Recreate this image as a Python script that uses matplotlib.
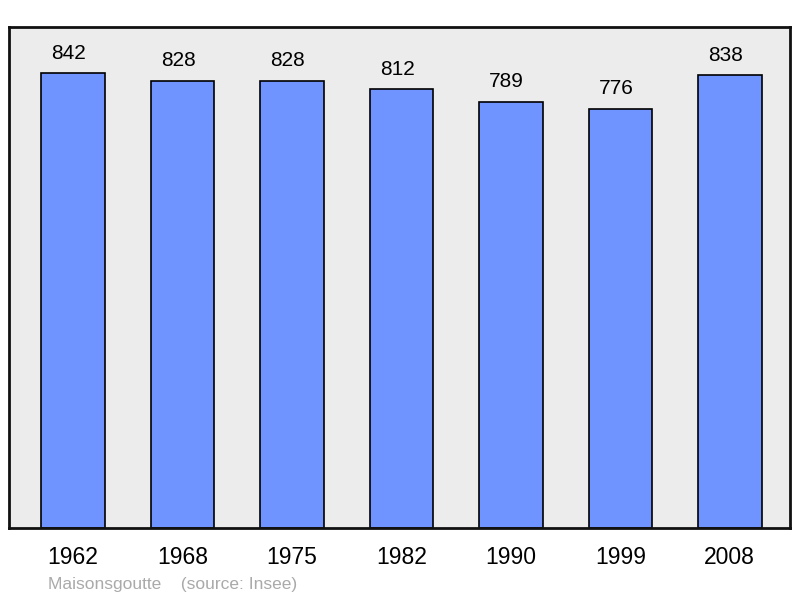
import numpy as np
import matplotlib.pyplot as plt

plt.rcParams['font.family'] = ['Liberation Sans', 'DejaVu Sans']

years = ["1962", "1968", "1975", "1982", "1990", "1999", "2008"]
population = [842, 828, 828, 812, 789, 776, 838]

fig = plt.figure(figsize=(8, 5.98), dpi=100)
ax = fig.add_axes([0.01125, 0.117, 0.97625, 0.8378])
ax.set_facecolor("#ececec")

x = np.arange(len(years))
ax.bar(x, population, width=0.58, color="#7094ff", edgecolor="black", linewidth=1.2, zorder=2)

# value labels above the bars (slightly left of centre, like the original)
for xi, v in zip(x, population):
    ax.annotate(str(v), (xi, v), xytext=(-3, 7.5), textcoords="offset points",
                ha="center", va="bottom", fontsize=15, color="black")

ax.set_xlim(-0.585, 6.55)
ax.set_ylim(0, 927)
ax.set_yticks([])
ax.set_xticks(x)
ax.set_xticklabels(years, fontsize=16.5)
ax.tick_params(axis="x", length=0, pad=13)
for s in ax.spines.values():
    s.set_linewidth(2)
    s.set_color("#111111")

fig.text(0.06, 0.010, "Maisonsgoutte    (source: Insee)", fontsize=12.5, color="#aaaaaa",
         ha="left", va="bottom")

fig.savefig("out.png", dpi=100)
